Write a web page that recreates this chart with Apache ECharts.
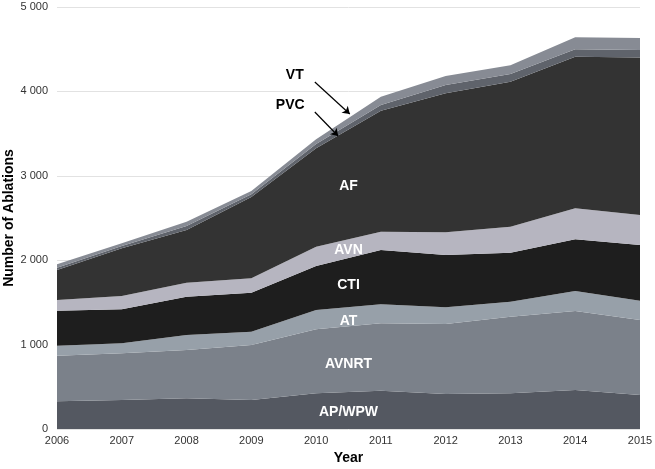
<!DOCTYPE html>
<html>
<head>
<meta charset="utf-8">
<script src="https://cdn.jsdelivr.net/npm/echarts@6/dist/echarts.min.js"></script>
<style>
html,body{margin:0;padding:0;background:#fff;}
#chart{width:655px;height:469px;}
</style>
</head>
<body>
<div id="chart"></div>
<script>
const years = ['2006', '2007', '2008', '2009', '2010', '2011', '2012', '2013', '2014', '2015'];
const apwpw = [330, 344, 363, 343, 423, 454, 415, 423, 462, 403];
const avnrt = [539, 553, 573, 652, 758, 798, 829, 908, 936, 888];
const at    = [118, 118, 178, 158, 229, 225, 198, 177, 237, 229];
const cti   = [413, 403, 454, 462, 521, 644, 620, 581, 613, 660];
const avn   = [128, 158, 166, 170, 229, 217, 268, 308, 367, 355];
const af    = [356, 565, 624, 965, 1166, 1433, 1647, 1718, 1796, 1868];
const pvc   = [27, 27, 47, 30, 51, 68, 99, 91, 87, 87];
const vt    = [40, 32, 51, 40, 55, 98, 106, 103, 143, 143];
const yTicks = [0, 1000, 2000, 3000, 4000, 5000];

const layers = [
  {name: 'AP/WPW', values: apwpw, color: '#545861'},
  {name: 'AVNRT', values: avnrt, color: '#7b818a'},
  {name: 'AT', values: at, color: '#97a0a9'},
  {name: 'CTI', values: cti, color: '#1e1e1e'},
  {name: 'AVN', values: avn, color: '#b6b5c0'},
  {name: 'AF', values: af, color: '#333333'},
  {name: 'PVC', values: pvc, color: '#5f636b'},
  {name: 'VT', values: vt, color: '#878b94'}
];

// label positions in data space (year, value)
const innerLabels = [
  {text: 'AF', coord: [2010.5, 2880]},
  {text: 'AVN', coord: [2010.5, 2121]},
  {text: 'CTI', coord: [2010.5, 1706]},
  {text: 'AT', coord: [2010.5, 1280]},
  {text: 'AVNRT', coord: [2010.5, 770]},
  {text: 'AP/WPW', coord: [2010.5, 201]}
];
const outerLabels = [
  {text: 'VT', coord: [2009.67, 4194]},
  {text: 'PVC', coord: [2009.6, 3839]}
];
const arrows = [
  [[2009.98, 4111], [2010.52, 3732]],
  [[2009.98, 3756], [2010.34, 3472]]
];

const fontFamily = 'Liberation Sans, Arial, sans-serif';
const fmtThousands = v => {
  const s = String(v);
  return s.length > 3 ? s.slice(0, s.length - 3) + ' ' + s.slice(-3) : s;
};

const series = layers.map(l => ({
  name: l.name,
  type: 'line',
  stack: 'total',
  xAxisIndex: 0,
  data: l.values,
  showSymbol: false,
  symbol: 'none',
  lineStyle: {width: 0, opacity: 0},
  areaStyle: {color: l.color, opacity: 1},
  itemStyle: {color: l.color},
  silent: true
}));

series.push({
  name: 'annotations',
  type: 'line',
  xAxisIndex: 1,
  data: [],
  silent: true,
  markPoint: {
    symbol: 'circle',
    symbolSize: 0,
    silent: true,
    data: innerLabels.map(l => ({
      coord: l.coord,
      label: {show: true, formatter: l.text, color: '#ffffff', fontSize: 14, fontWeight: 'bold', fontFamily: fontFamily, position: 'inside'}
    })).concat(outerLabels.map(l => ({
      coord: l.coord,
      label: {show: true, formatter: l.text, color: '#000000', fontSize: 14, fontWeight: 'bold', fontFamily: fontFamily, position: 'inside'}
    })))
  },
  markLine: {
    silent: true,
    symbol: ['none', 'arrow'],
    symbolSize: 7,
    label: {show: false},
    lineStyle: {color: '#000', width: 1.2, type: 'solid'},
    data: arrows.map(a => [{coord: a[0]}, {coord: a[1]}])
  }
});

const chart = echarts.init(document.getElementById('chart'));
chart.setOption({
  animation: false,
  backgroundColor: '#ffffff',
  grid: {left: 57, right: 15, top: 7, bottom: 40, containLabel: false, outerBoundsMode: 'none'},
  xAxis: [{
    type: 'category',
    data: years,
    boundaryGap: false,
    name: 'Year',
    nameLocation: 'middle',
    nameGap: 22,
    nameMoveOverlap: false,
    nameTextStyle: {fontSize: 14, fontWeight: 'bold', color: '#000', fontFamily: fontFamily},
    axisLine: {show: false},
    axisTick: {show: false},
    splitLine: {show: false},
    axisLabel: {fontSize: 11, color: '#333', margin: 6, fontFamily: fontFamily, interval: 0}
  }, {
    type: 'value',
    min: 2006,
    max: 2015,
    show: false
  }],
  yAxis: {
    type: 'value',
    min: yTicks[0],
    max: yTicks[yTicks.length - 1],
    interval: 1000,
    name: 'Number of Ablations',
    nameLocation: 'middle',
    nameGap: 41,
    nameMoveOverlap: false,
    nameTextStyle: {fontSize: 14, fontWeight: 'bold', color: '#000', fontFamily: fontFamily},
    axisLine: {show: false},
    axisTick: {show: false},
    splitLine: {show: true, lineStyle: {color: '#e2e2e2', width: 1}},
    axisLabel: {formatter: fmtThousands, fontSize: 11, color: '#333', margin: 9, fontFamily: fontFamily}
  },
  series: series
});
</script>
</body>
</html>
